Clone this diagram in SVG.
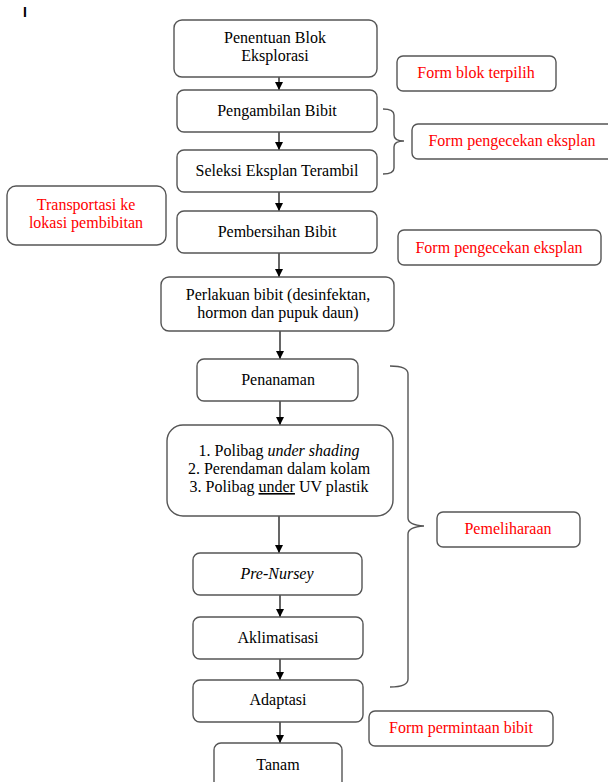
<svg xmlns="http://www.w3.org/2000/svg" width="608" height="782" viewBox="0 0 608 782">
<defs>
<style>
.box{fill:#fff;stroke:#555;stroke-width:1.4}
text{font-family:"Times New Roman","Liberation Serif",Tinos,"Nimbus Roman","DejaVu Serif","Noto Serif",FreeSerif,Times,serif;font-size:16px;text-anchor:middle}
.t{fill:#000}
.r{fill:#ff0000}
.ln{stroke:#000;stroke-width:1.2;fill:none}
.br{stroke:#555;stroke-width:1.4;fill:none}
</style>
<marker id="ah" viewBox="0 0 10 10" refX="10" refY="5" markerWidth="8" markerHeight="8" markerUnits="userSpaceOnUse" orient="auto">
<path d="M0,0 L10,5 L0,10 z" fill="#000"/>
</marker>
</defs>
<rect width="608" height="782" fill="#fff"/>
<text x="25" y="17" style="font-family:'Liberation Sans',Arial,sans-serif;font-size:14px;font-weight:bold;fill:#000">I</text>

<g id="connectors">
<line class="ln" x1="279" y1="77" x2="279" y2="90" marker-end="url(#ah)"/>
<line class="ln" x1="279" y1="132" x2="279" y2="150" marker-end="url(#ah)"/>
<line class="ln" x1="279" y1="192" x2="279" y2="211" marker-end="url(#ah)"/>
<line class="ln" x1="279" y1="253" x2="279" y2="277" marker-end="url(#ah)"/>
<line class="ln" x1="280" y1="331" x2="280" y2="359" marker-end="url(#ah)"/>
<line class="ln" x1="280" y1="401" x2="280" y2="425" marker-end="url(#ah)"/>
<line class="ln" x1="279" y1="516" x2="279" y2="553" marker-end="url(#ah)"/>
<line class="ln" x1="280" y1="595" x2="280" y2="617" marker-end="url(#ah)"/>
<line class="ln" x1="280" y1="659" x2="280" y2="680" marker-end="url(#ah)"/>
<line class="ln" x1="280" y1="722" x2="280" y2="743" marker-end="url(#ah)"/>
<path class="br" d="M383,109 Q394,109 394,115 L394,135 Q394,141 404,141 Q394,141 394,147 L394,168 Q394,174 383,174"/>
<path class="br" d="M390,366 Q408,366 408,374 L408,518 Q408,525 424,526 Q408,527 408,534 L408,679 Q408,687 390,687"/>
</g>

<g id="n1"><rect class="box" x="174" y="20" width="203" height="57" rx="8"/>
<text class="t" x="275" y="43">Penentuan Blok</text><text class="t" x="275" y="61">Eksplorasi</text></g>
<g id="n2"><rect class="box" x="177" y="90" width="200" height="42" rx="7"/>
<text class="t" x="277" y="116">Pengambilan Bibit</text></g>
<g id="n3"><rect class="box" x="177" y="150" width="200" height="42" rx="7"/>
<text class="t" x="277" y="176">Seleksi Eksplan Terambil</text></g>
<g id="n4"><rect class="box" x="177" y="211" width="200" height="42" rx="7"/>
<text class="t" x="277" y="237">Pembersihan Bibit</text></g>
<g id="n5"><rect class="box" x="161" y="277" width="233" height="54" rx="8"/>
<text class="t" x="278" y="300">Perlakuan bibit (desinfektan,</text><text class="t" x="278" y="318">hormon dan pupuk daun)</text></g>
<g id="n6"><rect class="box" x="197" y="359" width="161" height="42" rx="7"/>
<text class="t" x="278" y="385">Penanaman</text></g>
<g id="n7"><rect class="box" x="167" y="425" width="226" height="91" rx="16"/>
<text class="t" x="279" y="456">1. Polibag <tspan font-style="italic">under shading</tspan></text>
<text class="t" x="279" y="474">2. Perendaman dalam kolam</text>
<text class="t" x="279" y="492">3. Polibag <tspan text-decoration="underline">under</tspan> UV plastik</text></g>
<g id="n8"><rect class="box" x="193" y="553" width="169" height="42" rx="7"/>
<text class="t" x="277" y="579" font-style="italic">Pre-Nursey</text></g>
<g id="n9"><rect class="box" x="193" y="617" width="170" height="42" rx="7"/>
<text class="t" x="278" y="643">Aklimatisasi</text></g>
<g id="n10"><rect class="box" x="193" y="680" width="170" height="42" rx="7"/>
<text class="t" x="278" y="705">Adaptasi</text></g>
<g id="n11"><rect class="box" x="214" y="743" width="128" height="50" rx="7"/>
<text class="t" x="278" y="770">Tanam</text></g>

<g id="a1"><rect class="box" x="397" y="56" width="159" height="35" rx="6"/>
<text class="r" x="476" y="78">Form blok terpilih</text></g>
<g id="a2"><rect class="box" x="412" y="124" width="210" height="35" rx="6"/>
<text class="r" x="512" y="146">Form pengecekan eksplan</text></g>
<g id="a3"><rect class="box" x="7" y="186" width="159" height="59" rx="9"/>
<text class="r" x="86" y="210">Transportasi ke</text><text class="r" x="86" y="228">lokasi pembibitan</text></g>
<g id="a4"><rect class="box" x="398" y="230" width="203" height="35" rx="6"/>
<text class="r" x="499" y="253">Form pengecekan eksplan</text></g>
<g id="a5"><rect class="box" x="437" y="512" width="143" height="35" rx="6"/>
<text class="r" x="508" y="534">Pemeliharaan</text></g>
<g id="a6"><rect class="box" x="369" y="711" width="184" height="35" rx="6"/>
<text class="r" x="461" y="733">Form permintaan bibit</text></g>
</svg>
